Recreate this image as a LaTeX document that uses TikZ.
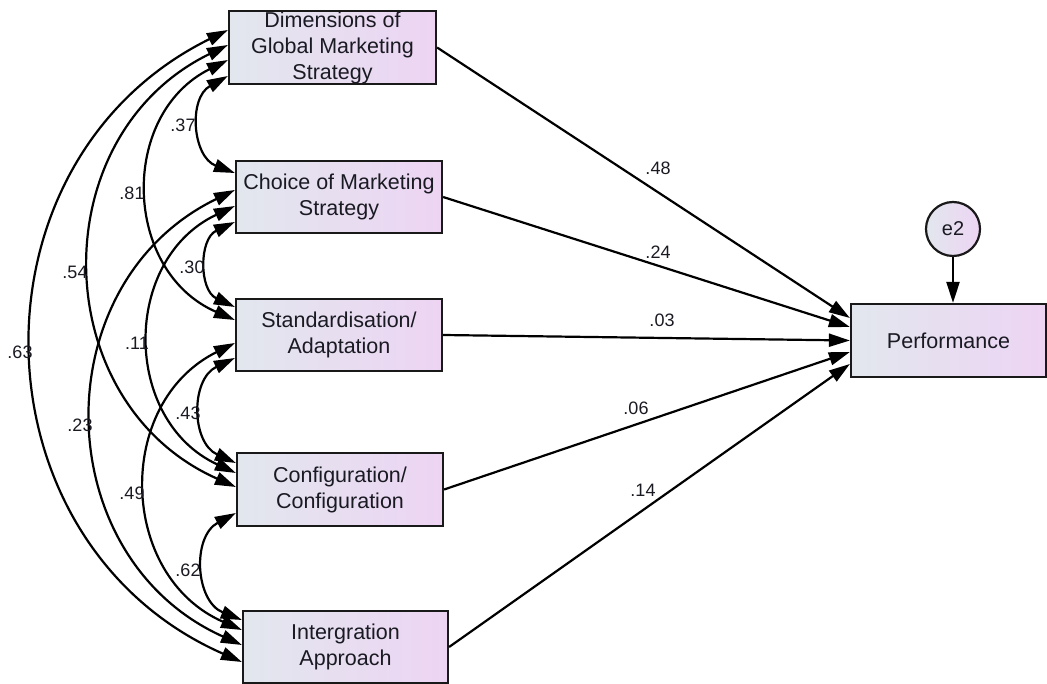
\documentclass[tikz,border=0pt]{standalone}
\usepackage{fontspec}
\setmainfont{Liberation Sans}
\usetikzlibrary{arrows.meta,calc}
\definecolor{boxL}{HTML}{E2E7EE}
\definecolor{boxR}{HTML}{EDD4F3}
\definecolor{txt}{HTML}{1A1A22}
\begin{document}
\begin{tikzpicture}[x=1pt,y=1pt,
  var/.style={draw=black!90, line width=2.2pt, left color=boxL, right color=boxR,
    minimum width=206pt, minimum height=72pt, inner sep=0pt, align=center,
    font=\fontsize{21.5}{26}\selectfont, text=txt},
  lbl/.style={font=\fontsize{18}{20}\selectfont, text=txt, inner sep=0pt},
  tip/.style={-{Triangle[length=21pt,width=13pt]}},
  path/.style={line width=2.2pt, tip},
  cov/.style={line width=2.2pt, {Triangle[length=21pt,width=13pt]}-{Triangle[length=21pt,width=13pt]}, bend right=65, looseness=1.2}
]
\useasboundingbox (0,0) rectangle (1047,-684);

% observed variables
\node[var, minimum width=207pt, minimum height=73pt] (dim) at (332.5,-47.5) {Dimensions of\\Global Marketing\\Strategy};
\node[var] (cho) at (339,-197) {Choice of Marketing\\Strategy};
\node[var] (std) at (339,-335) {Standardisation/\\Adaptation};
\node[var, minimum height=73pt] (cfg) at (340,-489.5) {Configuration/\\Configuration};
\node[var, minimum width=205pt] (int) at (345.5,-647) {Intergration\\Approach};
\node[var, minimum width=195pt, minimum height=73pt] (perf) at (948.5,-340.5) {Performance};
\node[draw=black!90, line width=2.2pt, circle, minimum size=54pt, inner sep=0pt,
  left color=boxL, right color=boxR, font=\fontsize{20}{24}\selectfont, text=txt] (e2) at (953,-229) {e2};

% error arrow
\draw[path] (e2.south) -- (e2.south |- perf.north);

% regression paths
\draw[path] (dim.east) -- ([yshift=22.5pt]perf.west);
\draw[path] (cho.east) -- ([yshift=13.5pt]perf.west);
\draw[path] (std.east) -- ([yshift=0pt]perf.west);
\draw[path] (cfg.east) -- ([yshift=-11.5pt]perf.west);
\draw[path] (int.east) -- ([yshift=-23.5pt]perf.west);

\node[lbl] (p48) at (658,-168) {.48};
\node[lbl] (p24) at (658,-252) {.24};
\node[lbl] (p03) at (662,-320) {.03};
\node[lbl] (p06) at (636,-408) {.06};
\node[lbl] (p14) at (643,-490) {.14};

% covariances
\draw[cov] ([yshift=17.5pt]dim.west) to ([yshift=-15pt]int.west);
\draw[cov] ([yshift=2.5pt]dim.west) to ([yshift=2.5pt]cfg.west);
\draw[cov] ([yshift=-12.5pt]dim.west) to ([yshift=15pt]std.west);
\draw[cov] ([yshift=-28.5pt]dim.west) to ([yshift=24pt]cho.west);
\draw[cov] ([yshift=7pt]cho.west) to ([yshift=2pt]int.west);
\draw[cov] ([yshift=-9pt]cho.west) to ([yshift=16.5pt]cfg.west);
\draw[cov] ([yshift=-25pt]cho.west) to ([yshift=28pt]std.west);
\draw[cov] ([yshift=-8pt]std.west) to ([yshift=17pt]int.west);
\draw[cov] ([yshift=-23pt]std.west) to ([yshift=26.5pt]cfg.west);
\draw[cov] ([yshift=-23.5pt]cfg.west) to ([yshift=27pt]int.west);

\node[lbl] (c37) at (183,-125) {.37};
\node[lbl] (c81) at (132,-193) {.81};
\node[lbl] (c54) at (75,-272) {.54};
\node[lbl] (c63) at (20,-352) {.63};
\node[lbl] (c30) at (192,-267) {.30};
\node[lbl] (c11) at (137,-343) {.11};
\node[lbl] (c23) at (80,-425) {.23};
\node[lbl] (c43) at (188,-413) {.43};
\node[lbl] (c49) at (132,-493) {.49};
\node[lbl] (c62) at (188,-570) {.62};
\end{tikzpicture}
\end{document}
